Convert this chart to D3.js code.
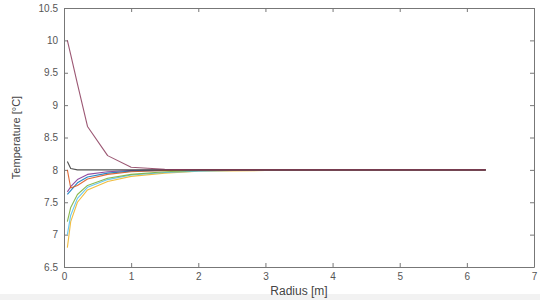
<!DOCTYPE html>
<html>
<head>
<meta charset="utf-8">
<style>
  body { margin: 0; background: #fff; }
  svg { display: block; font-family: "Liberation Sans", Arial, sans-serif; }
  .axis text { fill: #555; font-size: 10px; }
  .axis path, .axis line { stroke: #777; }
</style>
</head>
<body>
<svg width="540" height="300"></svg>
<script src="https://d3js.org/d3.v7.min.js"></script>
<script>
// radius grid [m]
var radius = [0.05, 0.1, 0.2, 0.35, 0.65, 1.0, 1.5, 2.0, 3.0, 4.0, 5.0, 6.28];

// temperature series [°C]
var tRed    = [10.0, 9.78, 9.33, 8.67, 8.22, 8.04, 8.01, 8.0, 8.0, 8.0, 8.0, 8.0];
var tBlack  = [8.13, 8.02, 8.0, 8.0, 8.0, 8.0, 8.0, 8.0, 8.0, 8.0, 8.0, 8.0];
var tOrange = [8.0, 7.72, 7.76, 7.86, 7.93, 7.97, 7.99, 8.0, 8.0, 8.0, 8.0, 8.0];
var tBlue   = [7.62, 7.68, 7.8, 7.89, 7.95, 7.98, 7.99, 8.0, 8.0, 8.0, 8.0, 8.0];
var tPurple = [7.66, 7.74, 7.85, 7.93, 7.97, 7.99, 8.0, 8.0, 8.0, 8.0, 8.0, 8.0];
var tGreen  = [7.2, 7.42, 7.62, 7.76, 7.87, 7.93, 7.97, 7.99, 8.0, 8.0, 8.0, 8.0];
var tCyan   = [7.0, 7.3, 7.56, 7.73, 7.85, 7.92, 7.96, 7.98, 8.0, 8.0, 8.0, 8.0];
var tYellow = [6.8, 7.2, 7.5, 7.69, 7.82, 7.9, 7.95, 7.98, 7.99, 8.0, 8.0, 8.0];

var xTicks = [0, 1, 2, 3, 4, 5, 6, 7];
var yTicks = [6.5, 7, 7.5, 8, 8.5, 9, 9.5, 10, 10.5];

var series = [
  {vals: tYellow, color: "#EDB120"},
  {vals: tCyan, color: "#4DBEEE"},
  {vals: tGreen, color: "#77AC30"},
  {vals: tPurple, color: "#7E2F8E"},
  {vals: tBlue, color: "#0072BD"},
  {vals: tOrange, color: "#D95319"},
  {vals: tBlack, color: "#333333"},
  {vals: tRed, color: "#8A3A5A"}
];

var svg = d3.select("svg"),
    margin = {top: 8, right: 6, bottom: 33, left: 64},
    width = +svg.attr("width") - margin.left - margin.right,
    height = +svg.attr("height") - margin.top - margin.bottom,
    g = svg.append("g").attr("transform", "translate(" + margin.left + "," + margin.top + ")");

var x = d3.scaleLinear().domain([0, 7]).range([0, width]);
var y = d3.scaleLinear().domain([6.5, 10.5]).range([height, 0]);
var fmt = d3.format("~g");

// faint strip along bottom edge
svg.append("rect").attr("x", 0).attr("y", 294).attr("width", 540).attr("height", 6).attr("fill", "#f2f2f2");

g.append("g").attr("class", "axis")
    .attr("transform", "translate(0," + height + ")")
    .call(d3.axisBottom(x).tickValues(xTicks).tickFormat(fmt).tickSize(-4).tickPadding(6).tickSizeOuter(0));
g.append("g").attr("class", "axis")
    .call(d3.axisLeft(y).tickValues(yTicks).tickFormat(fmt).tickSize(-4).tickPadding(6).tickSizeOuter(0));
g.append("g").attr("class", "axis")
    .call(d3.axisTop(x).tickValues(xTicks).tickSize(-4).tickFormat("").tickSizeOuter(0));
g.append("g").attr("class", "axis")
    .attr("transform", "translate(" + width + ",0)")
    .call(d3.axisRight(y).tickValues(yTicks).tickSize(-4).tickFormat("").tickSizeOuter(0));

var line = d3.line()
    .x(function(d, i) { return x(radius[i]); })
    .y(function(d) { return y(d); });

series.forEach(function(s) {
  g.append("path")
    .datum(s.vals)
    .attr("fill", "none")
    .attr("stroke", s.color)
    .attr("stroke-width", 1.1)
    .attr("stroke-opacity", 0.85)
    .attr("stroke-linejoin", "round")
    .attr("d", line);
});

svg.append("text")
    .attr("x", margin.left + width / 2)
    .attr("y", 295)
    .attr("text-anchor", "middle")
    .attr("font-size", "12px")
    .attr("fill", "#444")
    .text("Radius [m]");

svg.append("text")
    .attr("transform", "translate(20," + (margin.top + height / 2) + ") rotate(-90)")
    .attr("text-anchor", "middle")
    .attr("font-size", "11px")
    .attr("fill", "#444")
    .text("Temperature [°C]");
</script>
</body>
</html>
